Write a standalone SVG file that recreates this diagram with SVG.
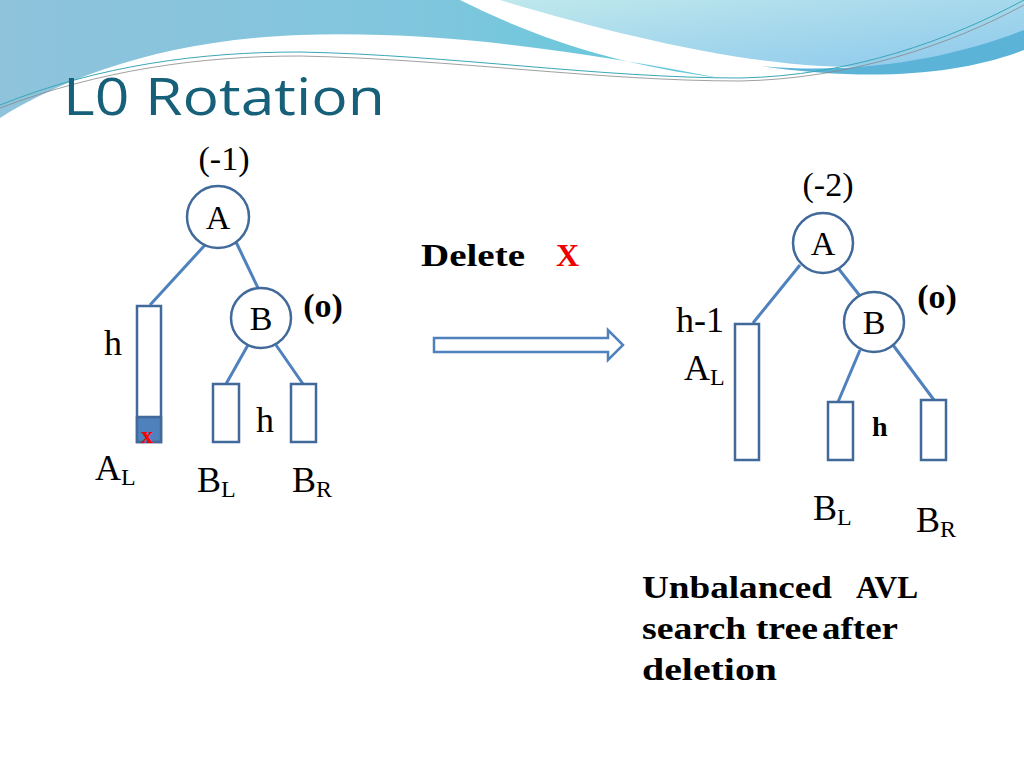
<svg xmlns="http://www.w3.org/2000/svg" width="1024" height="768" viewBox="0 0 1024 768">
<defs>
<linearGradient id="g1" x1="0" y1="0" x2="1" y2="0"><stop offset="0" stop-color="#8fc3dc"/><stop offset="0.6" stop-color="#7fc6dd"/><stop offset="1" stop-color="#5ec9da"/></linearGradient>
<linearGradient id="g2" x1="0" y1="0" x2="1" y2="1"><stop offset="0" stop-color="#bfe8ec"/><stop offset="1" stop-color="#8cc8ec"/></linearGradient>
<style>
.n{fill:#fff;stroke:#41699a;stroke-width:2.5}
.e{stroke:#4f81bd;stroke-width:3;fill:none}
.t{font-family:"Liberation Serif",serif;fill:#000}
.b{font-weight:bold}
</style>
</defs>
<rect width="1024" height="768" fill="#fff"/>
<g id="header">
<path d="M0,0 H460 C540,40 620,65 720,78 C600,55 450,30 300,35 C160,40 60,80 0,118 Z" fill="url(#g1)"/>
<path d="M500,0 H1024 V40 C980,62 900,70 820,66 C720,60 600,30 500,0 Z" fill="url(#g2)"/>
<path d="M760,66 C870,76 960,55 1024,30 V50 C960,75 870,82 760,66 Z" fill="#5bb4d8"/>
<path d="M0,105 C100,65 200,52 300,52 C450,55 600,78 740,78 C850,76 950,40 1024,0" stroke="#3aa7b5" stroke-width="1" fill="none"/>
<path d="M0,108 C100,70 200,56 300,56 C450,59 600,81 740,81 C850,79 950,45 1024,5" stroke="#888" stroke-width="0.8" fill="none"/>
<text x="63" y="115" font-family="'Open Sans',sans-serif" font-size="52" fill="#17607a" textLength="322" lengthAdjust="spacingAndGlyphs">L0 Rotation</text>
</g>
<g id="connectors">
<line class="e" x1="205" y1="245" x2="150" y2="305"/>
<line class="e" x1="236" y1="242" x2="258" y2="288"/>
<line class="e" x1="248" y1="345" x2="226" y2="384"/>
<line class="e" x1="276" y1="345" x2="303" y2="384"/>
<line class="e" x1="800" y1="265" x2="753" y2="323"/>
<line class="e" x1="838" y1="268" x2="860" y2="296"/>
<line class="e" x1="860" y1="350" x2="838" y2="402"/>
<line class="e" x1="893" y1="345" x2="934" y2="400"/>
<path d="M434,338 H608 V330 L623,345 L608,360 V352 H434 Z" fill="#fff" stroke="#4f81bd" stroke-width="2.5"/>
</g>
<g id="A1"><circle class="n" cx="218" cy="217" r="31"/><text class="t" x="218" y="229" font-size="34" text-anchor="middle">A</text></g>
<g id="B1"><circle class="n" cx="261" cy="318" r="30"/><text class="t" x="261" y="330" font-size="34" text-anchor="middle">B</text></g>
<g id="AL1"><rect class="n" x="137" y="306" width="24" height="136"/><rect x="137" y="417" width="24" height="25" fill="#4f81bd" stroke="#41699a" stroke-width="2.5"/><text class="t b" x="147" y="443" font-size="24" style="fill:#f00" text-anchor="middle">x</text></g>
<g id="BL1"><rect class="n" x="213" y="384" width="26" height="58"/></g>
<g id="BR1"><rect class="n" x="291" y="384" width="25" height="58"/></g>
<text class="t" x="224" y="170" font-size="34" text-anchor="middle">(-1)</text>
<text class="t b" x="323" y="317" font-size="34" text-anchor="middle">(o)</text>
<text class="t" x="104" y="355" font-size="36">h</text>
<text class="t" x="256" y="432" font-size="36">h</text>
<text class="t" x="95" y="480" font-size="36">A<tspan font-size="24" dy="5">L</tspan></text>
<text class="t" x="197" y="492" font-size="36">B<tspan font-size="24" dy="5">L</tspan></text>
<text class="t" x="292" y="492" font-size="36">B<tspan font-size="24" dy="5">R</tspan></text>
<text class="t b" x="421" y="266" font-size="32" textLength="104" lengthAdjust="spacingAndGlyphs">Delete</text>
<text class="t b" x="556" y="266" font-size="32" style="fill:#e00">X</text>
<g id="A2"><circle class="n" cx="823" cy="243" r="30"/><text class="t" x="823" y="255" font-size="34" text-anchor="middle">A</text></g>
<g id="B2"><circle class="n" cx="874" cy="322" r="30"/><text class="t" x="874" y="334" font-size="34" text-anchor="middle">B</text></g>
<g id="AL2"><rect class="n" x="735" y="324" width="24" height="136"/></g>
<g id="BL2"><rect class="n" x="828" y="402" width="25" height="58"/></g>
<g id="BR2"><rect class="n" x="921" y="400" width="25" height="60"/></g>
<text class="t" x="828" y="196" font-size="34" text-anchor="middle">(-2)</text>
<text class="t b" x="937" y="308" font-size="34" text-anchor="middle">(o)</text>
<text class="t" x="676" y="332" font-size="36">h-1</text>
<text class="t" x="684" y="380" font-size="36">A<tspan font-size="24" dy="5">L</tspan></text>
<text class="t b" x="872" y="436" font-size="28">h</text>
<text class="t" x="813" y="520" font-size="36">B<tspan font-size="24" dy="5">L</tspan></text>
<text class="t" x="916" y="532" font-size="36">B<tspan font-size="24" dy="5">R</tspan></text>
<text class="t b" x="642" y="598" font-size="31" textLength="190" lengthAdjust="spacingAndGlyphs">Unbalanced</text>
<text class="t b" x="856" y="598" font-size="31" textLength="62" lengthAdjust="spacingAndGlyphs">AVL</text>
<text class="t b" x="642" y="639" font-size="31" textLength="176" lengthAdjust="spacingAndGlyphs">search tree</text>
<text class="t b" x="822" y="639" font-size="31" textLength="76" lengthAdjust="spacingAndGlyphs">after</text>
<text class="t b" x="642" y="680" font-size="31" textLength="135" lengthAdjust="spacingAndGlyphs">deletion</text>
</svg>
